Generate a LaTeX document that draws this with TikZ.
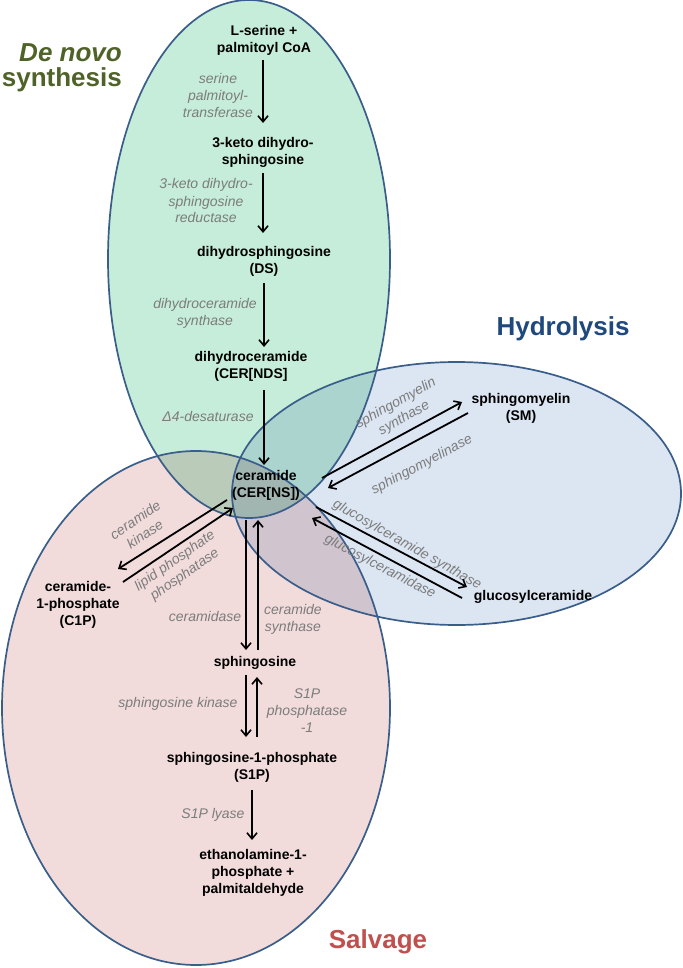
\documentclass[tikz,border=0pt]{standalone}
\usepackage{fontspec}
\setmainfont{Liberation Sans}
\usetikzlibrary{arrows.meta}
\definecolor{greenF}{RGB}{198,237,217}
\definecolor{blueF}{RGB}{220,229,242}
\definecolor{redF}{RGB}{242,219,219}
\definecolor{rim}{RGB}{58,94,138}
\definecolor{enzgray}{RGB}{124,124,124}
\definecolor{tgreen}{RGB}{79,98,40}
\definecolor{tblue}{RGB}{31,73,125}
\definecolor{tred}{RGB}{192,80,77}
\tikzset{
  met/.style={font=\bfseries\fontsize{14}{17}\selectfont, align=center, inner sep=0pt},
  enz/.style={font=\itshape\fontsize{14}{17}\selectfont, text=enzgray, align=center, inner sep=0pt},
  ttl/.style={font=\bfseries\fontsize{26}{25}\selectfont, inner sep=0pt},
  arr/.style={line width=1.8pt, -{Straight Barb[length=6pt,width=10pt,line width=1.6pt]}},
  rimline/.style={draw=rim, line width=1.7pt}
}
\begin{document}
\begin{tikzpicture}[x=1pt,y=-1pt]
\useasboundingbox (0,0) rectangle (682,968);
% ellipses
\begin{scope}[blend mode=multiply]
  \fill[redF] (196,708) ellipse [x radius=194pt, y radius=257pt];
  \fill[blueF] (456.5,493.5) ellipse [x radius=224.5pt, y radius=131.5pt];
  \fill[greenF] (249,259) ellipse [x radius=141pt, y radius=259pt];
\end{scope}
\draw[rimline] (196,708) ellipse [x radius=194pt, y radius=257pt];
\draw[rimline] (456.5,493.5) ellipse [x radius=224.5pt, y radius=131.5pt];
\draw[rimline] (249,259) ellipse [x radius=141pt, y radius=259pt];

% titles
\node[ttl, text=tgreen, align=right, anchor=north east] (tdn) at (122,43.5) {\textit{De novo}\\synthesis};
\node[ttl, text=tblue] (thy) at (563,329) {Hydrolysis};
\node[ttl, text=tred] (tsa) at (378,942) {Salvage};

% metabolites
\node[met] (ser) at (264,40.5) {L-serine +\\palmitoyl CoA};
\node[met] (keto) at (263,152) {3-keto dihydro-\\sphingosine};
\node[met] (ds) at (264,261) {dihydrosphingosine\\(DS)};
\node[met] (dhc) at (251,366) {dihydroceramide\\(CER[NDS]};
\node[met] (cer) at (266,485) {ceramide\\(CER[NS])};
\node[met] (sm) at (521,408) {sphingomyelin\\(SM)};
\node[met] (glc) at (533,597) {glucosylceramide};
\node[met] (c1p) at (78,605) {ceramide-\\1-phosphate\\(C1P)};
\node[met] (sph) at (255,663) {sphingosine};
\node[met] (s1p) at (252,767) {sphingosine-1-phosphate\\(S1P)};
\node[met] (eth) at (253,873) {ethanolamine-1-\\phosphate +\\palmitaldehyde};

% enzymes
\node[enz] (e1) at (218,95) {serine\\palmitoyl-\\transferase};
\node[enz] (e2) at (206,201) {3-keto dihydro-\\sphingosine\\reductase};
\node[enz] (e3) at (205,313) {dihydroceramide\\synthase};
\node[enz] (e4) at (208,416) {Δ4-desaturase};
\node[enz, rotate=29] (e5) at (400,411) {sphingomyelin\\synthase};
\node[enz, rotate=28] (e6) at (422,465) {sphingomyelinase};
\node[enz, rotate=-29.5] (e7) at (407,545) {glucosylceramide synthase};
\node[enz, rotate=-27.5] (e8) at (380,567) {glucosylceramidase};
\node[enz, rotate=34] (e9) at (140,527) {ceramide\\kinase};
\node[enz, rotate=35] (e10) at (180,568) {lipid phosphate\\phosphatase};
\node[enz] (e11) at (205,616) {ceramidase};
\node[enz] (e12) at (293,619) {ceramide\\synthase};
\node[enz] (e13) at (178,704) {sphingosine kinase};
\node[enz] (e14) at (307,711) {S1P\\phosphatase\\-1};
\node[enz] (e15) at (213,815) {S1P lyase};

% connector end points
\coordinate (v1a) at (263,60);   \coordinate (v1b) at (263,123);
\coordinate (v2a) at (263,173);  \coordinate (v2b) at (263,233);
\coordinate (v3a) at (264,283);  \coordinate (v3b) at (264,347);
\coordinate (v4a) at (264,390);  \coordinate (v4b) at (264,465);
\coordinate (sm1a) at (322,478); \coordinate (sm1b) at (462,402);
\coordinate (sm2a) at (468,413); \coordinate (sm2b) at (328,488);
\coordinate (gc1a) at (316,507); \coordinate (gc1b) at (467,587);
\coordinate (gc2a) at (462,598); \coordinate (gc2b) at (312,518);
\coordinate (cp1a) at (227,500); \coordinate (cp1b) at (118,569);
\coordinate (cp2a) at (123,582); \coordinate (cp2b) at (233,508);
\coordinate (sp1a) at (246,520); \coordinate (sp1b) at (246,650);
\coordinate (sp2a) at (258,650); \coordinate (sp2b) at (258,520);
\coordinate (sq1a) at (246,675); \coordinate (sq1b) at (246,737);
\coordinate (sq2a) at (257,737); \coordinate (sq2b) at (257,677);
\coordinate (lya) at (252,790);  \coordinate (lyb) at (252,840);

\draw[arr] (v1a) -- (v1b);
\draw[arr] (v2a) -- (v2b);
\draw[arr] (v3a) -- (v3b);
\draw[arr] (v4a) -- (v4b);
\draw[arr] (sm1a) -- (sm1b);
\draw[arr] (sm2a) -- (sm2b);
\draw[arr] (gc1a) -- (gc1b);
\draw[arr] (gc2a) -- (gc2b);
\draw[arr] (cp1a) -- (cp1b);
\draw[arr] (cp2a) -- (cp2b);
\draw[arr] (sp1a) -- (sp1b);
\draw[arr] (sp2a) -- (sp2b);
\draw[arr] (sq1a) -- (sq1b);
\draw[arr] (sq2a) -- (sq2b);
\draw[arr] (lya) -- (lyb);
\end{tikzpicture}
\end{document}
